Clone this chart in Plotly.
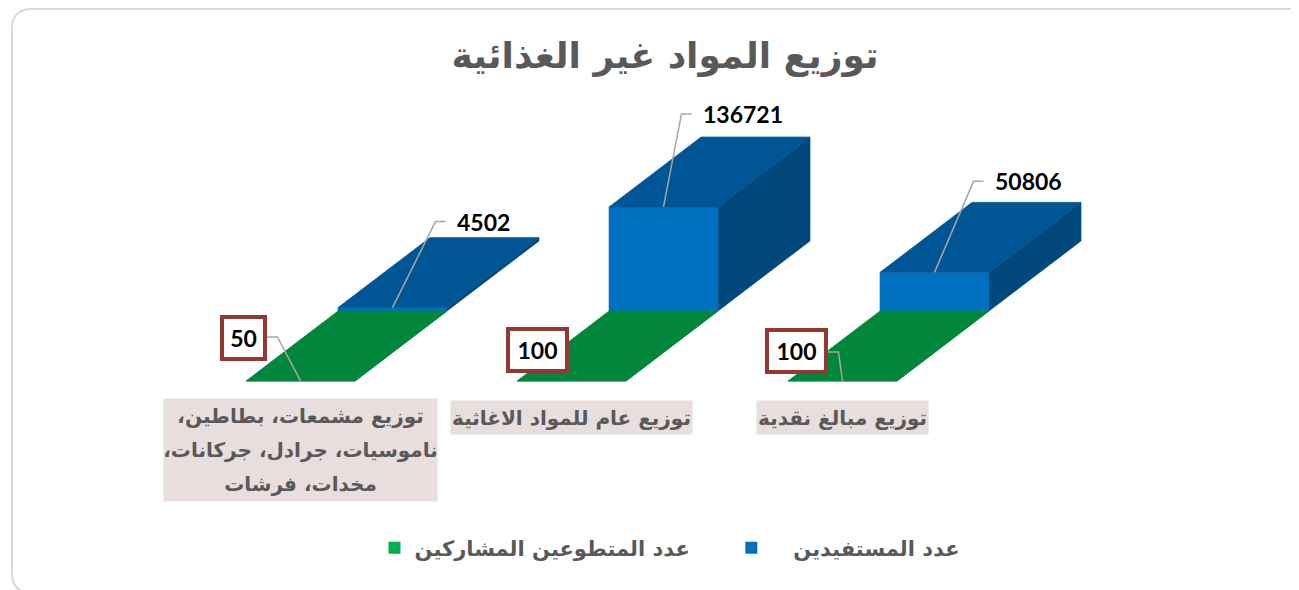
import plotly.graph_objects as go

# ---------------- data ----------------
title_text = "توزيع المواد غير الغذائية"
categories = [
    ["توزيع مشمعات، بطاطين،", "ناموسيات، جرادل، جركانات،", "مخدات، فرشات"],
    ["توزيع عام للمواد الاغاثية"],
    ["توزيع مبالغ نقدية"],
]
volunteers = [50, 100, 100]
beneficiaries = [4502, 136721, 50806]
series_names = ["عدد المتطوعين المشاركين", "عدد المستفيدين"]

# ---------------- styling / layout constants ----------------
W, H = 1299, 590
OFF = 8                 # page body margin offset
CAT_PX = 271.0          # pixels between categories
X0_PX = 300.5 - OFF     # pixel x of category 0 (front row centre)
BASE_PX = 381.0 - OFF   # pixel y of value 0 (front row)
PX_PER_VAL = 0.000761   # vertical scale
BAR_HALF_PX = 54.5
DEPTH_DX_PX, DEPTH_DY_PX = 92.0, 70.0

AR_FONT = "DejaVu Sans"
NUM_FONT = "Lato"
GRAY = "#595959"
RLM = "\u200f"
NBSP = "\u00a0"

GREEN = {"front": "#00A04A", "top": "#00873C", "side": "#006E31"}
BLUE = {"front": "#0070C0", "top": "#005594", "side": "#00487C"}
GREEN_LEGEND = "#00B050"
BLUE_LEGEND = "#0070C0"


def dxp(px):
    return px / CAT_PX


def dyp(px):
    return -px / PX_PER_VAL


BH = dxp(BAR_HALF_PX)
DDX = dxp(DEPTH_DX_PX)
DDY = -dyp(DEPTH_DY_PX)

fig = go.Figure()


def poly(pts, color):
    xs = [p[0] for p in pts] + [pts[0][0]]
    ys = [p[1] for p in pts] + [pts[0][1]]
    fig.add_trace(go.Scatter(
        x=xs, y=ys, mode="lines", fill="toself", fillcolor=color,
        line=dict(color=color, width=0.6), hoverinfo="skip", showlegend=False))


def box(i, row, v, col):
    x0 = i - BH + row * DDX
    x1 = i + BH + row * DDX
    y0 = row * DDY
    y1 = y0 + v
    poly([(x1, y0), (x1 + DDX, y0 + DDY), (x1 + DDX, y1 + DDY), (x1, y1)], col["side"])
    poly([(x0, y0), (x1, y0), (x1, y1), (x0, y1)], col["front"])
    poly([(x0, y1), (x1, y1), (x1 + DDX, y1 + DDY), (x0 + DDX, y1 + DDY)], col["top"])


# back row (beneficiaries) then front row (volunteers)
for i, v in enumerate(beneficiaries):
    box(i, 1, v, BLUE)
for i, v in enumerate(volunteers):
    box(i, 0, v, GREEN)

# legend entries
fig.add_trace(go.Scatter(x=[None], y=[None], mode="markers",
                         name=series_names[0] + NBSP * 5,
                         marker=dict(symbol="square", size=15, color=GREEN_LEGEND)))
fig.add_trace(go.Scatter(x=[None], y=[None], mode="markers",
                         name=NBSP * 3 + series_names[1],
                         marker=dict(symbol="square", size=15, color=BLUE_LEGEND)))

annotations = []
LEADER = "#A6A6A6"
NUM_STYLE = dict(family=NUM_FONT, size=23, color="#000000", weight="bold")

# beneficiaries labels (leader elbow offsets in px)
blue_elbows = [(43, -86), (18, -93), (39, -91)]
for i, v in enumerate(beneficiaries):
    sx, sy = i + DDX, DDY + v
    ex, ey = sx + dxp(blue_elbows[i][0]), sy + dyp(blue_elbows[i][1])
    hx = ex + dxp(10)
    fig.add_trace(go.Scatter(x=[sx, ex, hx], y=[sy, ey, ey], mode="lines",
                             line=dict(color=LEADER, width=1.5), hoverinfo="skip",
                             showlegend=False))
    annotations.append(dict(x=ex, y=ey, xref="x", yref="y", text=str(v), showarrow=False,
                            xanchor="left", yanchor="middle", xshift=19, font=NUM_STYLE))

# volunteers labels (box centre offsets in px, leader elbow offsets)
green_boxes = [(-57.5, -43, 33), (-34.5, -31, 49), (-46.5, -30, 49)]
green_elbows = [(-23, -44), None, (-4, -29)]
for i, v in enumerate(volunteers):
    bx, by, bw = green_boxes[i]
    if green_elbows[i] is not None:
        ex = i + dxp(green_elbows[i][0])
        ey = dyp(green_elbows[i][1])
        hx = i + dxp(bx + (bw + 8) / 2)
        fig.add_trace(go.Scatter(x=[hx, ex, i], y=[ey, ey, volunteers[i]], mode="lines",
                                 line=dict(color=LEADER, width=1.5), hoverinfo="skip",
                                 showlegend=False))
    annotations.append(dict(x=i + dxp(bx), y=dyp(by), xref="x", yref="y", text=str(v),
                            showarrow=False, xanchor="center", yanchor="middle",
                            width=bw, height=32, borderpad=3, borderwidth=4,
                            bordercolor="#953735", bgcolor="#FFFFFF", font=NUM_STYLE))

# category labels
CAT_FONT = dict(family=AR_FONT, size=20, color=GRAY, weight="bold")
LINE_H = 34
MULTI_W = 273
for i, lines in enumerate(categories):
    if len(lines) == 1:
        annotations.append(dict(x=i, y=0, xref="x", yref="y", text=lines[0] + RLM,
                                showarrow=False, xanchor="center", yanchor="top", yshift=-19,
                                height=31, bgcolor="#E8DEDE", borderpad=1, font=CAT_FONT))
    else:
        for k, ln in enumerate(lines):
            annotations.append(dict(x=i, y=0, xref="x", yref="y", text=RLM + ln + RLM,
                                    showarrow=False, xanchor="center", yanchor="top",
                                    yshift=-17 - LINE_H * k, width=MULTI_W, height=LINE_H,
                                    borderpad=0, bgcolor="#E8DEDE", font=CAT_FONT))

# outer rounded border
L, T, R, B, r = (12 - OFF) / W, 1 - (9 - OFF) / H, 1318 / W, 1 - (593 - OFF) / H, 20
rx, ry = r / W, r / H
path = (f"M {L + rx} {T} L {R - rx} {T} Q {R} {T} {R} {T - ry} L {R} {B + ry} "
        f"Q {R} {B} {R - rx} {B} L {L + rx} {B} Q {L} {B} {L} {B + ry} "
        f"L {L} {T - ry} Q {L} {T} {L + rx} {T} Z")

fig.update_layout(
    width=W, height=H,
    margin=dict(l=0, r=0, t=0, b=0),
    paper_bgcolor="#FFFFFF", plot_bgcolor="#FFFFFF",
    xaxis=dict(range=[-X0_PX / CAT_PX, (W - X0_PX) / CAT_PX], visible=False, fixedrange=True),
    yaxis=dict(range=[dyp(H - BASE_PX), dyp(-BASE_PX)], visible=False, fixedrange=True),
    title=dict(text=title_text, x=(665 - OFF) / W, y=1 - (55 - OFF) / H,
               xanchor="center", yanchor="middle",
               font=dict(family=AR_FONT, size=36, color=GRAY, weight="bold")),
    legend=dict(orientation="h", x=(670 - OFF) / W, y=1 - (548 - OFF) / H,
                xanchor="center", yanchor="middle",
                font=dict(family=AR_FONT, size=21, color=GRAY, weight="bold"),
                itemsizing="constant"),
    shapes=[dict(type="path", xref="paper", yref="paper", path=path,
                 line=dict(color="#D9D9D9", width=2), layer="below")],
    annotations=annotations,
    showlegend=True,
)

fig.write_html("out.html")
